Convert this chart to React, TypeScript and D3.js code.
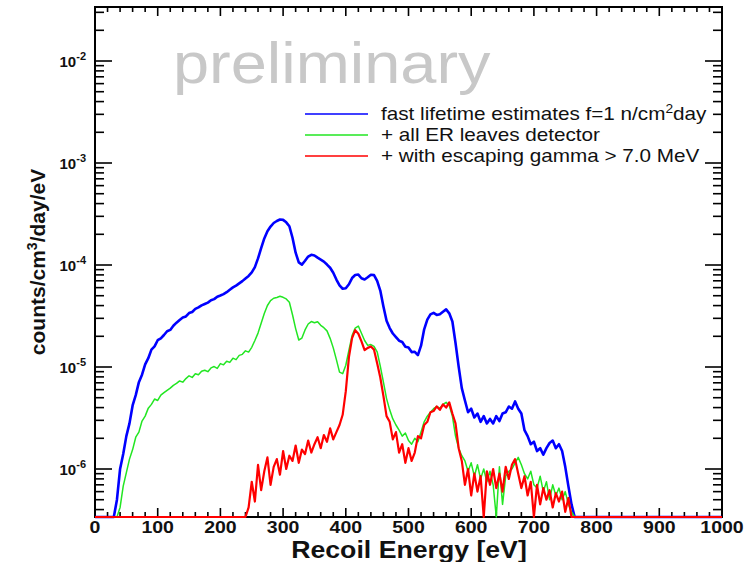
import React from 'react';
import * as d3 from 'd3';

// Canvas and plot frame
const W = 754;
const H = 562;
const plot = { left: 95, right: 722, top: 7, bottom: 517 };

// Histogram binning (eV) and value unit (counts/cm^3/day/eV)
const binWidth = 5;
const unit = 1e-6;

// fast lifetime estimates, bins starting at 30 eV
const blueStart = 30;
const blueCounts = [
  0, 0.5, 1.0, 1.4, 2.1, 2.8, 4.2, 5.3, 7.1, 8.4,
  10.6, 12.2, 14.8, 15.9, 18.3, 19.1, 20.6, 22.4, 23.1, 25.4,
  27.2, 28.9, 30.6, 31.3, 33.8, 34.6, 37.1, 38.4, 40.2, 41.5,
  42.8, 45.1, 46.3, 48.9, 50.2, 51.8, 54.1, 57.3, 60.4, 62.8,
  66.1, 69.5, 73.8, 78.2, 84.6, 95.3, 116, 146, 182, 214,
  238, 258, 270, 279, 277, 262, 240, 185, 132, 106,
  101, 110, 121, 126, 124, 118, 113, 108, 101, 94,
  84, 72, 63, 58.5, 59.2, 64.8, 74.5, 79.8, 80.6, 74.2,
  72.1, 75.8, 80.3, 79.6, 69.8, 56.1, 39.2, 28.4, 24.1, 21.3,
  19.6, 18.1, 17.6, 15.8, 15.5, 14.0, 14.1, 13.1, 16.2, 23.4,
  29.1, 32.8, 33.9, 32.4, 32.9, 34.8, 36.7, 33.6, 27.9, 17.2,
  10.1, 6.2, 4.7, 3.6, 3.9, 3.2, 3.5, 2.9, 3.3, 2.8,
  3.1, 2.8, 3.3, 2.95, 3.5, 3.6, 4.1, 3.9, 4.6, 3.9,
  3.5, 2.4, 2.1, 1.75, 1.85, 1.5, 1.6, 1.38, 1.6, 1.8,
  1.9, 1.6, 1.75, 1.5, 1.05, 0.68, 0.45, 0.32, 0,
];

// + all ER leaves detector, bins starting at 35 eV
const greenStart = 35;
const greenCounts = [
  0, 0.42, 0.68, 0.92, 1.25, 1.55, 2.05, 2.3, 2.95, 3.3,
  3.95, 4.3, 4.85, 4.7, 5.3, 5.6, 5.9, 6.2, 6.6, 6.9,
  7.3, 7.1, 7.7, 8.2, 7.9, 8.6, 8.4, 9.1, 9.3, 9.0,
  9.8, 10.1, 9.7, 10.8, 10.5, 11.4, 11.1, 12.2, 11.8, 13.0,
  13.3, 14.4, 14.0, 15.6, 18.2, 21.5, 26.8, 33.4, 40.1, 44.8,
  47.2, 48.1, 49.3, 48.2, 46.5, 43.1, 32.5, 23.8, 18.4, 19.2,
  23.1, 26.4, 27.9, 27.2, 27.8, 25.6, 24.3, 22.6, 19.1, 15.4,
  11.8, 8.9, 8.6, 10.4, 14.6, 20.3, 24.1, 25.2, 21.4, 18.2,
  16.3, 16.6, 15.9, 14.1, 10.2, 7.1, 4.9, 3.8, 3.1, 2.7,
  2.4, 2.1, 2.25, 1.9, 1.75, 2.0, 1.85, 2.3, 2.9, 3.3,
  3.6, 3.9, 4.1, 3.95, 4.3, 4.5, 4.2, 3.3, 2.1, 1.6,
  1.35, 1.2, 0.95, 1.15, 0.85, 1.1, 0.8, 1.0, 0.75, 0.95,
  0.7, 0, 1.05, 0.45, 0.85, 0.95, 1.0, 1.15, 1.3, 1.1,
  0.9, 0.8, 0.95, 0.7, 0.65, 0.85, 0.6, 0.75, 0.5, 0.7,
  0.55, 0.65, 0.5, 0.6, 0.45, 0.38, 0,
];

// + with escaping gamma > 7.0 MeV, bins starting at 240 eV
const redStart = 240;
const redCounts = [
  0, 0.42, 0.75, 0.48, 1.1, 0.62, 0.95, 1.3, 0.7, 1.05,
  1.25, 0.88, 1.5, 1.0, 1.35, 1.2, 1.7, 1.15, 1.55, 1.4,
  1.9, 1.45, 1.75, 2.05, 1.6, 2.15, 1.85, 2.5, 1.95, 2.3,
  2.7, 3.4, 5.8, 12.5, 19.2, 23.0, 21.2, 17.8, 14.6, 15.4,
  15.9, 14.8, 10.9, 7.9, 5.2, 3.3, 2.9, 1.95, 2.3, 1.45,
  1.75, 1.15, 1.6, 1.2, 1.45, 2.1, 2.0, 2.7, 2.9, 3.6,
  3.7, 4.1, 3.8, 4.3, 4.0, 4.5, 3.5, 2.8, 1.6, 1.2,
  0.7, 1.0, 0.55, 0.9, 0.6, 0.85, 0.3, 0.95, 0.7, 1.0,
  0.65, 0.9, 0.6, 1.05, 0.8, 1.1, 1.25, 0.9, 0.65, 0.85,
  0.55, 0.75, 0.3, 0.7, 0.45, 0.65, 0.5, 0.62, 0.42, 0.58,
  0.48, 0.6, 0.38, 0.52, 0.33, 0,
];

const seriesNames = [
  'fast lifetime estimates f=1 n/cm2day',
  '+ all ER leaves detector',
  '+ with escaping gamma > 7.0 MeV',
];
const seriesColors = ['#0000ff', '#22e622', '#ff0000'];
const seriesWidths = [2.6, 1.5, 2.2];

const xDomain: [number, number] = [0, 1000];
const xMajorTicks = [0, 100, 200, 300, 400, 500, 600, 700, 800, 900, 1000];
const xMinorStep = 20;
const yDomain: [number, number] = [3.384e-7, 3.384e-2];
const yDecades = [-2, -3, -4, -5, -6];

const FONT = '"Liberation Sans", Arial, Helvetica, sans-serif';

function toPoints(start: number, counts: number[]): [number, number][] {
  const pts: [number, number][] = [[xDomain[0], 0]];
  counts.forEach((c, i) => pts.push([start + i * binWidth, c * unit]));
  pts.push([xDomain[1], 0]);
  return pts;
}

export default function App() {
  const x = d3.scaleLinear().domain(xDomain).range([plot.left, plot.right]);
  const y = d3.scaleLog().domain(yDomain).range([plot.bottom, plot.top]);

  const line = d3
    .line<[number, number]>()
    .x((d) => x(d[0]))
    .y((d) => y(Math.max(d[1], yDomain[0])));

  const series = [
    toPoints(blueStart, blueCounts),
    toPoints(greenStart, greenCounts),
    toPoints(redStart, redCounts),
  ];

  // Minor x ticks
  const xMinor = d3.range(xDomain[0], xDomain[1] + 0.001, xMinorStep).filter((v) => v % 100 !== 0);

  // Log ticks on y
  const yMajor = yDecades.map((d) => Math.pow(10, d));
  const yMinor: number[] = [];
  for (let d = -7; d <= -1; d++) {
    for (let k = 2; k <= 9; k++) {
      const v = k * Math.pow(10, d);
      if (v >= yDomain[0] && v <= yDomain[1]) yMinor.push(v);
    }
  }

  const xMajLen = 9, xMinLen = 5, yMajLen = 17, yMinLen = 9;

  return (
    <svg
      width={W}
      height={H}
      style={{ position: 'absolute', left: 0, top: 0, background: '#fff' }}
      fontFamily={FONT}
    >
      <rect x={0} y={0} width={W} height={H} fill="#fff" />

      {/* watermark */}
      <g transform="translate(173,83) scale(1.12,1)">
        <text x={0} y={0} fontSize={58} fill="#c8c8c8">
          preliminary
        </text>
      </g>

      {/* legend */}
      {seriesNames.map((name, i) => {
        const ly = 114 + i * 21;
        return (
          <g key={name}>
            <line x1={305} x2={368} y1={ly} y2={ly} stroke={seriesColors[i]} strokeWidth={1.6} />
            <g transform={`translate(381,${ly + 6}) scale(1.15,1)`}>
              <text x={0} y={0} fontSize={18} fill="#111">
                {i === 0 ? (
                  <>
                    fast lifetime estimates f=1 n/cm
                    <tspan fontSize={12} dy={-7}>2</tspan>
                    <tspan dy={7}>day</tspan>
                  </>
                ) : (
                  name
                )}
              </text>
            </g>
          </g>
        );
      })}

      {/* ticks */}
      <g stroke="#000" strokeWidth={1.6}>
        {xMajorTicks.map((v) => (
          <g key={'xM' + v}>
            <line x1={x(v)} x2={x(v)} y1={plot.bottom} y2={plot.bottom - xMajLen} />
            <line x1={x(v)} x2={x(v)} y1={plot.top} y2={plot.top + xMajLen} />
          </g>
        ))}
        {xMinor.map((v) => (
          <g key={'xm' + v}>
            <line x1={x(v)} x2={x(v)} y1={plot.bottom} y2={plot.bottom - xMinLen} />
            <line x1={x(v)} x2={x(v)} y1={plot.top} y2={plot.top + xMinLen} />
          </g>
        ))}
        {yMajor.map((v) => (
          <g key={'yM' + v}>
            <line x1={plot.left} x2={plot.left + yMajLen} y1={y(v)} y2={y(v)} />
            <line x1={plot.right} x2={plot.right - yMajLen} y1={y(v)} y2={y(v)} />
          </g>
        ))}
        {yMinor.map((v) => (
          <g key={'ym' + v}>
            <line x1={plot.left} x2={plot.left + yMinLen} y1={y(v)} y2={y(v)} />
            <line x1={plot.right} x2={plot.right - yMinLen} y1={y(v)} y2={y(v)} />
          </g>
        ))}
      </g>

      {/* frame */}
      <rect
        x={plot.left}
        y={plot.top}
        width={plot.right - plot.left}
        height={plot.bottom - plot.top}
        fill="none"
        stroke="#000"
        strokeWidth={2}
      />

      {/* data */}
      <defs>
        <clipPath id="plotClip">
          <rect x={plot.left} y={plot.top} width={plot.right - plot.left} height={plot.bottom - plot.top + 3} />
        </clipPath>
      </defs>
      <g clipPath="url(#plotClip)" fill="none" strokeLinejoin="round">
        {series.map((pts, i) => (
          <path key={i} d={line(pts) || ''} stroke={seriesColors[i]} strokeWidth={seriesWidths[i]} />
        ))}
      </g>

      {/* x tick labels */}
      {xMajorTicks.map((v) => (
        <g key={'xl' + v} transform={`translate(${x(v)},533) scale(1.22,1)`}>
          <text x={0} y={0} textAnchor="middle" fontSize={16} fontWeight="bold" fill="#111">
            {v}
          </text>
        </g>
      ))}

      {/* y tick labels */}
      {yDecades.map((d) => (
        <text
          key={'yl' + d}
          x={86}
          y={y(Math.pow(10, d)) + 5.5}
          textAnchor="end"
          fontSize={15}
          fontWeight="bold"
          fill="#111"
        >
          10
          <tspan fontSize={11} dy={-7}>
            {String(d)}
          </tspan>
        </text>
      ))}

      {/* axis titles */}
      <g transform="translate(409,558) scale(1.16,1)">
        <text x={0} y={0} textAnchor="middle" fontSize={23} fontWeight="bold" fill="#111">
          Recoil Energy [eV]
        </text>
      </g>
      <g transform="translate(45,262) rotate(-90)">
        <text x={0} y={0} textAnchor="middle" fontSize={21} fontWeight="bold" fill="#111">
          counts/cm<tspan fontSize={14} dy={-8}>3</tspan>
          <tspan dy={8}>/day/eV</tspan>
        </text>
      </g>
    </svg>
  );
}
